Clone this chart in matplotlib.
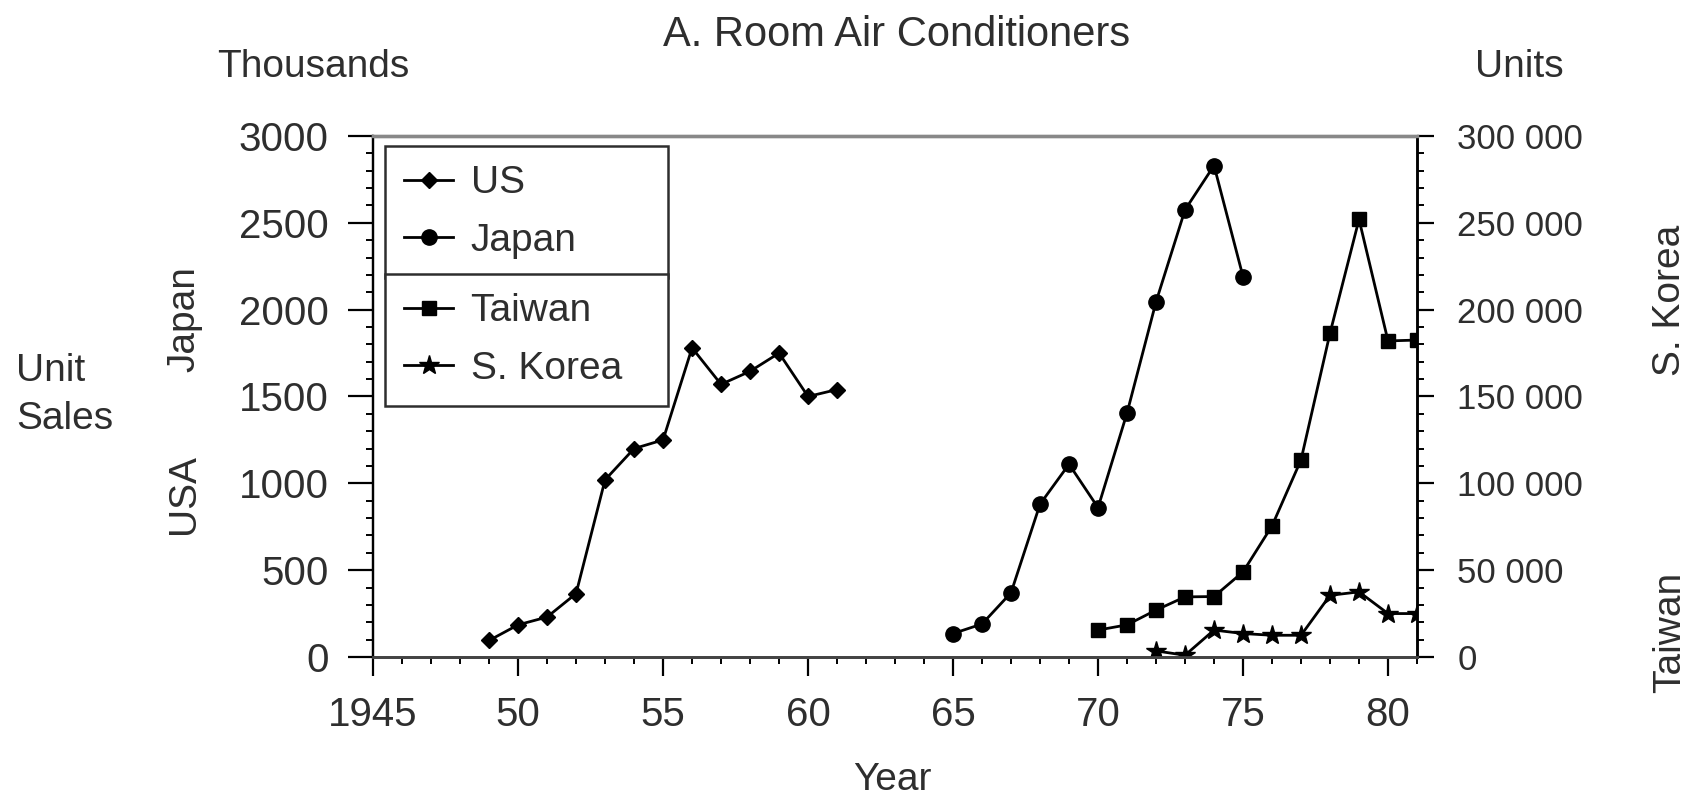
import matplotlib
matplotlib.use("Agg")
import matplotlib.pyplot as plt
from matplotlib.ticker import MultipleLocator, FuncFormatter

plt.rcParams['font.family'] = ['Liberation Sans', 'DejaVu Sans']
ink = '#2e2e2e'

# unit sales, thousands (left scale)
us_years = [1949, 1950, 1951, 1952, 1953, 1954, 1955, 1956, 1957, 1958, 1959, 1960, 1961]
us_sales = [95, 185, 230, 365, 1020, 1200, 1250, 1780, 1570, 1645, 1750, 1500, 1540]
jp_years = [1965, 1966, 1967, 1968, 1969, 1970, 1971, 1972, 1973, 1974, 1975]
jp_sales = [135, 190, 370, 880, 1110, 860, 1405, 2045, 2575, 2830, 2190]

# units (right scale)
tw_years = [1970, 1971, 1972, 1973, 1974, 1975, 1976, 1977, 1978, 1979, 1980, 1981]
tw_units = [15500, 18500, 27000, 34600, 34800, 49000, 75500, 113500, 186500, 252000, 182000, 182500]
kr_years = [1972, 1973, 1974, 1975, 1976, 1977, 1978, 1979, 1980, 1981]
kr_units = [3500, 1000, 15500, 13500, 12500, 12500, 35500, 37500, 25000, 25000]

year_ticks = [1945, 1950, 1955, 1960, 1965, 1970, 1975, 1980]
year_labels = ['1945', '50', '55', '60', '65', '70', '75', '80']

fig = plt.figure(figsize=(16.95, 8.01), dpi=100)
ax = fig.add_axes([0.2201, 0.1798, 0.6159, 0.6504])
ax2 = ax.twinx()

line_kw = dict(color='black', lw=2.0, mec='black', mfc='black')
h_us, = ax.plot(us_years, us_sales, marker='D', ms=8, label='US', **line_kw)
h_jp, = ax.plot(jp_years, jp_sales, marker='o', ms=11, label='Japan', **line_kw)
h_tw, = ax2.plot(tw_years, tw_units, marker='s', ms=10, label='Taiwan', **line_kw)
h_kr, = ax2.plot(kr_years, kr_units, marker='*', ms=15, label='S. Korea', **line_kw)

ax.set_xlim(1945, 1981)
ax.set_ylim(0, 3000)
ax2.set_ylim(0, 300000)

ax.set_xticks(year_ticks)
ax.set_xticklabels(year_labels)
ax.xaxis.set_minor_locator(MultipleLocator(1))
ax.yaxis.set_major_locator(MultipleLocator(500))
ax.yaxis.set_minor_locator(MultipleLocator(100))
ax2.yaxis.set_major_locator(MultipleLocator(50000))
ax2.yaxis.set_minor_locator(MultipleLocator(10000))
ax2.yaxis.set_major_formatter(FuncFormatter(lambda v, p: f'{int(v):,}'.replace(',', ' ')))

ax.tick_params(axis='y', which='major', direction='out', length=18, width=1.6, pad=14,
               labelsize=29, labelcolor=ink)
ax.tick_params(axis='y', which='minor', direction='out', length=5, width=1.4)
ax.tick_params(axis='x', which='major', direction='out', length=14, width=1.6, pad=14,
               labelsize=29, labelcolor=ink)
ax.tick_params(axis='x', which='minor', direction='out', length=5, width=1.4)
ax2.tick_params(axis='y', which='major', direction='out', length=12, width=1.6, pad=17,
                labelsize=25, labelcolor=ink)
ax2.tick_params(axis='y', which='minor', direction='out', length=5, width=1.4)

for a in (ax, ax2):
    a.spines['top'].set_color('#888888')
    a.spines['top'].set_linewidth(2.4)
    a.spines['bottom'].set_color('#444444')
    a.spines['bottom'].set_linewidth(2.0)
    a.spines['left'].set_linewidth(1.6)
    a.spines['right'].set_linewidth(1.8)

# two stacked legend boxes sharing one edge
leg_kw = dict(loc='upper left', mode='expand', borderaxespad=0, fancybox=False,
              framealpha=1, edgecolor=ink, fontsize=28, handlelength=1.25,
              handletextpad=0.45, labelspacing=0.55, borderpad=0.5, labelcolor=ink)
leg_x, leg_w, leg_h = 385 / 1695, 283 / 1695, 0.01
leg1 = ax2.legend(handles=[h_us, h_jp], bbox_to_anchor=(leg_x, 1 - 146 / 801 - leg_h, leg_w, leg_h),
                  bbox_transform=fig.transFigure, **leg_kw)
leg1.get_frame().set_linewidth(1.8)
ax2.add_artist(leg1)
leg2 = ax2.legend(handles=[h_tw, h_kr], bbox_to_anchor=(leg_x, 1 - 274 / 801 - leg_h, leg_w, leg_h),
                  bbox_transform=fig.transFigure, **leg_kw)
leg2.get_frame().set_linewidth(1.8)

fig.text(897 / 1695, 1 - 35 / 801, 'A. Room Air Conditioners', ha='center', va='center',
         fontsize=30, color=ink)
fig.text(313 / 1695, 1 - 67 / 801, 'Thousands', ha='center', va='center', fontsize=28, color=ink)
fig.text(1519 / 1695, 1 - 67 / 801, 'Units', ha='center', va='center', fontsize=28, color=ink)
fig.text(892 / 1695, 1 - 780 / 801, 'Year', ha='center', va='center', fontsize=28, color=ink)
fig.text(16 / 1695, 1 - 395 / 801, 'Unit\nSales', ha='left', va='center', fontsize=28,
         color=ink, linespacing=1.4)
fig.text(184 / 1695, 1 - 494 / 801, 'USA', rotation=90, ha='center', va='center',
         fontsize=28, color=ink)
fig.text(184 / 1695, 1 - 319 / 801, 'Japan', rotation=90, ha='center', va='center',
         fontsize=28, color=ink)
fig.text(1670 / 1695, 1 - 632 / 801, 'Taiwan', rotation=90, ha='center', va='center',
         fontsize=28, color=ink)
fig.text(1670 / 1695, 1 - 300 / 801, 'S. Korea', rotation=90, ha='center', va='center',
         fontsize=28, color=ink)

fig.savefig('out.png', dpi=100)
